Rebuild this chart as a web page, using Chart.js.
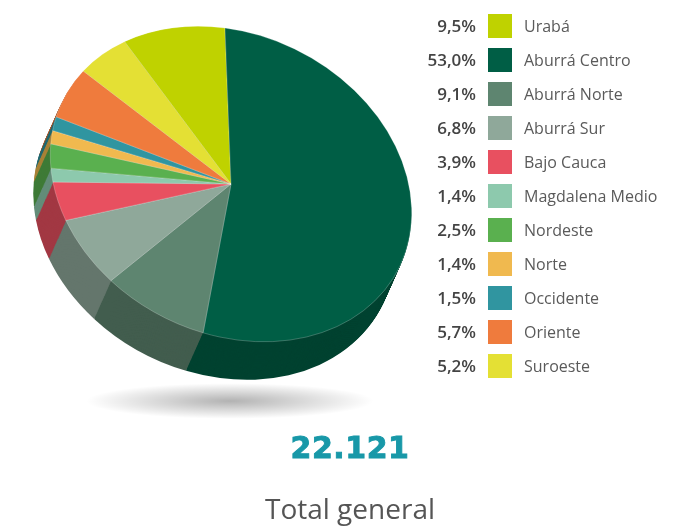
<!DOCTYPE html>
<html>
<head>
<meta charset="utf-8">
<script src="https://cdn.jsdelivr.net/npm/chart.js@4.4.0/dist/chart.umd.min.js"></script>
<style>
body { margin: 0; background: #fff; font-family: "Open Sans", sans-serif; }
#wrap { position: relative; width: 700px; height: 530px; overflow: hidden; }
#pie { position: absolute; left: 0; top: 0; }
.shadow { position: absolute; left: 85px; top: 383px; width: 290px; height: 36px; border-radius: 50%;
  background: radial-gradient(ellipse at center, rgba(0,0,0,0.30) 0%, rgba(0,0,0,0.13) 40%, rgba(0,0,0,0) 70%); }
.pct { position: absolute; left: 396px; width: 80px; height: 24px; line-height: 24px; text-align: right;
  font-size: 17px; font-weight: 600; color: #444; }
.sw { position: absolute; left: 488px; width: 24px; height: 24px; }
.lab { position: absolute; left: 524px; height: 24px; line-height: 24px; font-size: 16px; color: #5a5a5a; white-space: nowrap; }
#total { position: absolute; left: 200px; width: 300px; top: 430px; text-align: center;
  font-family: "DejaVu Sans", sans-serif; font-weight: bold; font-size: 30px; letter-spacing: 0.5px; color: #1898a8;
  -webkit-text-stroke: 0.9px #1898a8; }
#caption { position: absolute; left: 200px; width: 300px; top: 489px; text-align: center;
  font-size: 28px; color: #555; }
</style>
</head>
<body>
<div id="wrap">
  <div class="shadow"></div>
  <canvas id="pie" width="700" height="530"></canvas>
  <div id="legend"></div>
  <div id="total"></div>
  <div id="caption"></div>
</div>
<script>
// datos
var categories = ["Urabá", "Aburrá Centro", "Aburrá Norte", "Aburrá Sur", "Bajo Cauca", "Magdalena Medio",
  "Nordeste", "Norte", "Occidente", "Oriente", "Suroeste"]
var shares = [9.5, 53.0, 9.1, 6.8, 3.9, 1.4, 2.5, 1.4, 1.5, 5.7, 5.2]
var totalText = "22.121"
var captionText = "Total general"

var colors = ["#bfd200", "#005e45", "#5e8570", "#8fa89a", "#e85060", "#8dc9ad",
  "#5ab04f", "#f0b94f", "#3095a0", "#ef7b3d", "#e4e034"]

// geometria del pastel inclinado
var vertex = [231, 184]
var tilt = [180.6, 23.7, 6, 156]
var depth = [-17, 38]
var steps = 40

function darken(hex, f) {
  var n = parseInt(hex.slice(1), 16)
  var r = Math.round(((n >> 16) & 255) * f)
  var g = Math.round(((n >> 8) & 255) * f)
  var b = Math.round((n & 255) * f)
  return "rgb(" + r + "," + g + "," + b + ")"
}
var sideColors = colors.map(function (c) { return darken(c, 0.7) })

// leyenda en html
var legend = document.getElementById("legend")
var html = ""
categories.forEach(function (name, i) {
  var top = 14 + 34 * i
  html += '<div class="pct" style="top:' + top + 'px">' + shares[i].toFixed(1).replace(".", ",") + '%</div>'
  html += '<div class="sw" style="top:' + top + 'px;background:' + colors[i] + '"></div>'
  html += '<div class="lab" style="top:' + top + 'px">' + name + '</div>'
})
legend.innerHTML = html
document.getElementById("total").textContent = totalText
document.getElementById("caption").textContent = captionText

var pie3d = {
  id: "pie3d",
  beforeDatasetsDraw: function (chart) {
    var ctx = chart.ctx
    var meta = chart.getDatasetMeta(0)
    var cx = meta.data[0].x, cy = meta.data[0].y, r = meta.data[0].outerRadius
    function setFace(dx, dy) {
      ctx.translate(vertex[0] + dx, vertex[1] + dy)
      ctx.transform(tilt[0] / r, tilt[1] / r, tilt[2] / r, tilt[3] / r, 0, 0)
      ctx.translate(-cx, -cy)
    }
    for (var i = steps; i >= 1; i--) {
      ctx.save()
      setFace(depth[0] * i / steps, depth[1] * i / steps)
      meta.data.forEach(function (arc, k) {
        ctx.beginPath()
        ctx.moveTo(cx, cy)
        ctx.arc(cx, cy, r, arc.startAngle, arc.endAngle)
        ctx.closePath()
        ctx.fillStyle = sideColors[k]
        ctx.fill()
      })
      ctx.restore()
    }
    ctx.save()
    setFace(0, 0)
  },
  afterDatasetsDraw: function (chart) {
    chart.ctx.restore()
  }
}

var chart_pie = new Chart(document.getElementById("pie"), {
  type: "pie",
  plugins: [pie3d],
  data: {
    labels: categories,
    datasets: [
      {
        data: shares,
        backgroundColor: colors,
        borderColor: "rgba(255,255,255,0.45)",
        borderWidth: 0.7,
        hoverOffset: 0,
        clip: false,
      },
    ],
  },
  options: {
    responsive: false,
    animation: false,
    events: [],
    rotation: -shares[0] * 3.6,
    layout: { padding: 20 },
    plugins: {
      legend: { display: false },
      tooltip: { enabled: false },
    },
  },
})
</script>
</body>
</html>
